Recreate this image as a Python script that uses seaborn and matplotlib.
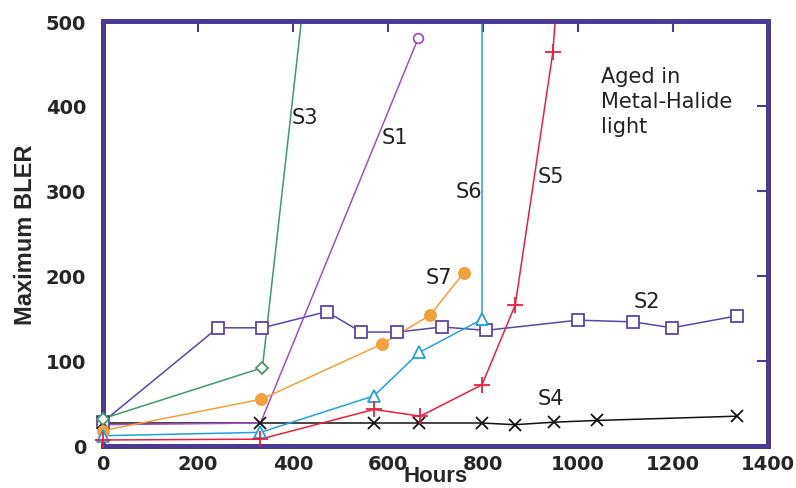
import matplotlib
matplotlib.use("Agg")
import matplotlib.pyplot as plt
import seaborn as sns
import pandas as pd

# ---- data ----
s2_x = [0, 242, 336, 471, 544, 620, 714, 806, 1000, 1116, 1198, 1334]
s2_y = [28, 139, 139, 158, 134, 134, 140, 136, 148, 146, 139, 153]

s4_x = [0, 332, 571, 666, 798, 867, 950, 1040, 1334]
s4_y = [27, 27, 27, 27, 27, 25, 28, 30, 35]

s3_x = [0, 336, 430]
s3_y = [32, 92, 560]

s1_x = [0, 332, 664]
s1_y = [25, 27, 480]

s7_x = [0, 334, 588, 689, 760]
s7_y = [18, 55, 120, 154, 204]

s6_x = [0, 332, 571, 666, 798, 798]
s6_y = [12, 16, 59, 110, 149, 600]

s5_x = [0, 332, 571, 668, 798, 868, 947, 960]
s5_y = [7, 8, 43, 35, 72, 166, 463, 560]

series_names = ["S1", "S2", "S3", "S4", "S5", "S6", "S7"]
label_pos = {"S3": (397, 387), "S1": (586, 363), "S6": (742, 300), "S5": (914, 318),
             "S7": (679, 199), "S2": (1118, 171), "S4": (914, 57)}
note_text = "Aged in\nMetal-Halide\nlight"
x_ticks = [0, 200, 400, 600, 800, 1000, 1200, 1400]
y_ticks = [0, 100, 200, 300, 400, 500]

# ---- styles ----
sns.set_style("white")
plt.rcParams['font.family'] = ['DejaVu Sans']

frame_col = "#4a3a94"
styles = {
    "S2": dict(x=s2_x, y=s2_y, color="#5b45a8", marker="s", ms=9, filled=False),
    "S4": dict(x=s4_x, y=s4_y, color="#111111", marker="x", ms=9, filled=False),
    "S3": dict(x=s3_x, y=s3_y, color="#3f9a6c", marker="D", ms=6, filled=False),
    "S1": dict(x=s1_x, y=s1_y, color="#a050c0", marker="o", ms=7, filled=False),
    "S7": dict(x=s7_x, y=s7_y, color="#f2a03c", marker="o", ms=8, filled=True),
    "S6": dict(x=s6_x, y=s6_y, color="#22a0e0", marker="^", ms=9, filled=False),
    "S5": dict(x=s5_x, y=s5_y, color="#e8203e", marker="+", ms=11, filled=False),
}

fig = plt.figure(figsize=(7.96, 4.89), dpi=100)
ax = fig.add_axes([0.129, 0.086, 0.836, 0.869])

for name in ["S2", "S4", "S3", "S1", "S7", "S6", "S5"]:
    st = styles[name]
    df = pd.DataFrame({"Hours": st["x"], "BLER": st["y"]})
    sns.lineplot(data=df, x="Hours", y="BLER", ax=ax, color=st["color"],
                 estimator=None, sort=False, linewidth=1.1)
    inr = df[(df.BLER <= 500)]
    if name == "S1":
        inr = inr.iloc[[-1]]
    mk = dict(marker=st["marker"], markersize=st["ms"], markeredgewidth=1.3,
              markeredgecolor=st["color"])
    if st["filled"]:
        mk["markerfacecolor"] = st["color"]
    elif st["marker"] not in ("x", "+"):
        mk["markerfacecolor"] = "white"
    sns.lineplot(data=inr, x="Hours", y="BLER", ax=ax, color=st["color"],
                 estimator=None, sort=False, linestyle="", **mk)
    ax.lines[-1].set_clip_on(False)
    ax.lines[-1].set_zorder(3)

for name, (lx, ly) in label_pos.items():
    ax.text(lx, ly, name, fontsize=15, color="#222222", ha="left", va="center")

ax.text(1048, 447, note_text, fontsize=15, color="#222222", ha="left", va="top",
        linespacing=1.3)

ax.set_xlim(0, 1400)
ax.set_ylim(0, 500)
ax.set_xticks(x_ticks)
ax.set_yticks(y_ticks)
ax.tick_params(direction="in", length=8, width=1.5, color=frame_col,
               top=True, right=True, labelsize=14, pad=6)
ax.tick_params(axis="y", pad=12)
for lab in ax.get_xticklabels() + ax.get_yticklabels():
    lab.set_fontweight("bold")
for sp in ax.spines.values():
    sp.set_color(frame_col)
    sp.set_linewidth(3.6)
    sp.set_visible(True)

ax.set_xlabel("Hours", fontsize=16, fontweight="bold", family="Liberation Sans", labelpad=-6)
ax.set_ylabel("Maximum BLER", fontsize=17, fontweight="bold", family="Liberation Sans", labelpad=6)

fig.savefig("out.png", dpi=100)
